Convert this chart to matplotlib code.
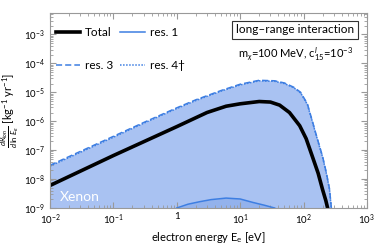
import matplotlib
matplotlib.use("Agg")
from matplotlib import pyplot as plt

plt.rcParams['font.family'] = ['Lato', 'DejaVu Sans']
plt.rcParams['mathtext.fontset'] = 'custom'
plt.rcParams['mathtext.rm'] = 'Lato'
plt.rcParams['mathtext.it'] = 'Lato:italic'
plt.rcParams['mathtext.bf'] = 'Lato:bold'

# electron energy [eV] and rates [kg^-1 yr^-1]
E_total = [0.01, 0.1, 1, 3, 6, 10, 20, 30, 42, 60, 87, 110, 138, 170, 200, 225, 240, 260]
R_total = [6e-9, 6.5e-8, 6.5e-7, 2.0e-6, 3.3e-6, 4.0e-6, 4.8e-6, 4.6e-6, 3.6e-6,
           2.0e-6, 7e-7, 2.5e-7, 6e-8, 1.6e-8, 4.3e-9, 1.8e-9, 1e-9, 3e-10]

E_res3 = [0.01, 0.1, 0.3, 1, 2, 5, 10, 20, 35, 50, 70, 90, 115, 138, 165, 200, 230, 257, 275, 290]
R_res3 = [3e-8, 3e-7, 9e-7, 2.9e-6, 5.5e-6, 1.15e-5, 1.9e-5, 2.6e-5, 2.5e-5, 2.1e-5,
          1.5e-5, 1.0e-5, 4e-6, 1e-6, 2.5e-7, 6e-8, 1.6e-8, 4.6e-9, 1e-9, 2e-10]

E_res4 = E_res3
R_res4 = [2.8e-8, 2.8e-7, 8.5e-7, 2.75e-6, 5.2e-6, 1.1e-5, 1.8e-5, 2.5e-5, 2.4e-5, 2.0e-5,
          1.45e-5, 9.5e-6, 3.8e-6, 9.5e-7, 2.4e-7, 5.7e-8, 1.5e-8, 4.3e-9, 9.5e-10, 2e-10]

E_res1 = [1, 1.5, 2.3, 3.5, 6, 10, 16, 24, 35]
R_res1 = [1e-9, 1.35e-9, 1.65e-9, 1.95e-9, 2.2e-9, 2.05e-9, 1.55e-9, 1.25e-9, 1e-9]

blue = '#3d7ee2'
fill_c = '#a9c2f2'
fill_c1 = '#93b2ec'

fig = plt.figure(figsize=(3.74, 2.46), dpi=100)
ax = fig.add_axes([0.1337, 0.1545, 0.8473, 0.7925])

ax.fill_between(E_res3, 1e-12, R_res3, color=fill_c, lw=0)
ax.fill_between(E_res1, 1e-12, R_res1, color=fill_c1, lw=0)

l_tot, = ax.plot(E_total, R_total, color='black', lw=2.6, label='Total')
l_r1, = ax.plot(E_res1, R_res1, color=blue, lw=1.1, label='res. 1')
l_r3, = ax.plot(E_res3, R_res3, color=blue, lw=1.1, ls=(0, (4, 2)), label='res. 3')
l_r4, = ax.plot(E_res4, R_res4, color=blue, lw=1.1, ls=(0, (1, 1)), label='res. 4†')

ax.set_xscale('log')
ax.set_yscale('log')
ax.set_xlim(1e-2, 1e3)
ax.set_ylim(1e-9, 5.5e-3)

ax.set_xticks([1e-2, 1e-1, 1, 10, 100, 1000])
ax.set_xticklabels([r'$10^{-2}$', r'$10^{-1}$', '1', r'$10^{1}$', r'$10^{2}$', r'$10^{3}$'])
ax.set_yticks([1e-9, 1e-8, 1e-7, 1e-6, 1e-5, 1e-4, 1e-3])

for s in ax.spines.values():
    s.set_color('#999999')
ax.tick_params(which='both', direction='in', top=True, right=True, color='#999999',
               labelsize=7)
ax.tick_params(which='major', length=4)
ax.tick_params(which='minor', length=2)
ax.tick_params(axis='x', pad=3)

ax.set_xlabel(r'electron energy E$_{\rm e}$ [eV]', fontsize=8, labelpad=2)
ax.set_ylabel(r'$\frac{dR_{ion}}{d\,\ln\,E_e}$ [kg$^{-1}$ yr$^{-1}$]', fontsize=8, labelpad=2)

# column-wise filling: Total/res. 3 in first column, res. 1/res. 4 in second
ax.legend([l_tot, l_r3, l_r1, l_r4], ['Total', 'res. 3', 'res. 1', 'res. 4†'],
          ncol=2, loc='upper left', bbox_to_anchor=(-0.005, 0.965), frameon=False,
          fontsize=8.5, handlelength=2.1, handletextpad=0.4, columnspacing=0.6,
          labelspacing=1.9, borderaxespad=0.2)

ax.text(0.773, 0.913, 'long–range interaction', transform=ax.transAxes, fontsize=8.5,
        ha='center', va='center',
        bbox=dict(boxstyle='square,pad=0.3', fc='white', ec='#333333', lw=0.8))
ax.text(0.775, 0.79, r'm$_\chi$=100 MeV, c$^{l}_{15}$=10$^{-3}$', transform=ax.transAxes,
        fontsize=8, ha='center', va='center')
ax.text(0.03, 0.025, 'Xenon', transform=ax.transAxes, fontsize=10, color='white',
        ha='left', va='bottom')

fig.savefig('out.png', dpi=100)
